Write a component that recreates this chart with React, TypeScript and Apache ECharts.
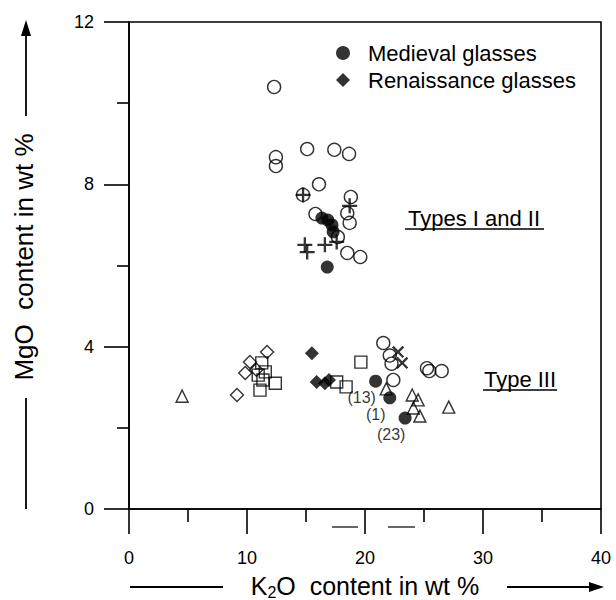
import React, { useEffect, useRef } from "react";
import * as echarts from "echarts";

// K2O (wt %), MgO (wt %)
const openCircles: number[][] = [
  [12.3, 10.4], [12.45, 8.67], [12.45, 8.45], [15.1, 8.87], [17.4, 8.85], [18.65, 8.75],
  [16.1, 8.0], [14.75, 7.74], [18.8, 7.69], [18.5, 7.29], [18.7, 7.05], [15.8, 7.27],
  [17.7, 6.7], [18.5, 6.31], [19.6, 6.21],
  [21.55, 4.09], [22.1, 3.78], [22.25, 3.58], [22.4, 3.18], [25.25, 3.47], [25.45, 3.4], [26.5, 3.4],
];
const medieval: number[][] = [
  [16.35, 7.17], [16.85, 7.12], [17.2, 7.0], [17.3, 6.83], [16.8, 5.96],
  [20.9, 3.15], [22.1, 2.74], [23.4, 2.24],
];
const medievalLabels: string[] = ["", "", "", "", "", "(13)", "(1)", "(23)"];
const renaissance: number[][] = [[15.5, 3.84], [15.9, 3.13], [16.6, 3.1], [16.95, 3.18]];
const openDiamonds: number[][] = [[11.7, 3.87], [10.25, 3.62], [9.85, 3.35], [10.8, 3.43], [9.15, 2.81]];
const openSquares: number[][] = [
  [11.25, 3.6], [11.55, 3.38], [10.95, 3.3], [11.35, 3.18], [12.4, 3.1], [11.1, 2.93],
  [17.6, 3.13], [18.4, 3.01], [19.65, 3.62],
];
const openTriangles: number[][] = [
  [4.5, 2.78], [24.0, 2.81], [24.5, 2.69], [24.1, 2.49], [24.65, 2.29], [27.1, 2.51], [21.8, 2.96],
];
const plusMarks: number[][] = [[14.75, 7.74], [18.7, 7.47], [14.9, 6.51], [15.1, 6.33], [16.6, 6.51], [17.6, 6.58]];
const crossMarks: number[][] = [[22.8, 3.87], [23.15, 3.6]];

const xTicks = { min: 0, max: 40, interval: 10 };
const yTicks = { min: 0, max: 12, interval: 4 };

const FONT = "'Liberation Sans', Arial, Helvetica, sans-serif";
const PLUS = "path://M6,0h2.2v6h6v2.2h-6v6h-2.2v-6h-6v-2.2h6z";

export default function App() {
  const ref = useRef<HTMLDivElement>(null);
  useEffect(() => {
    document.body.style.margin = "0";
    const chart = echarts.init(ref.current!, null, { renderer: "svg" });
    const open = { color: "rgba(0,0,0,0)", borderColor: "#000", borderWidth: 1.4 };
    const axisCommon = {
      type: "value" as const,
      axisLine: { show: true, onZero: false, lineStyle: { color: "#000", width: 1.6 } },
      splitLine: { show: false },
      axisLabel: { color: "#000", fontSize: 18, fontFamily: FONT },
    };
    chart.setOption({
      animation: false,
      backgroundColor: "#fff",
      textStyle: { fontFamily: FONT },
      grid: { left: 129, right: 15, top: 22, bottom: 91, show: true, borderColor: "#000", borderWidth: 1.6 },
      xAxis: {
        ...axisCommon,
        ...xTicks,
        axisTick: { length: 25, lineStyle: { color: "#000", width: 1.6 } },
        minorTick: { show: true, splitNumber: 2, length: 13, lineStyle: { color: "#000", width: 1.6 } },
        axisLabel: { ...axisCommon.axisLabel, margin: 40 },
      },
      yAxis: {
        ...axisCommon,
        ...yTicks,
        axisTick: { length: 25, lineStyle: { color: "#000", width: 1.6 } },
        minorTick: { show: true, splitNumber: 2, length: 12, lineStyle: { color: "#000", width: 1.6 } },
        axisLabel: { ...axisCommon.axisLabel, margin: 35 },
      },
      legend: {
        data: ["Medieval glasses", "Renaissance glasses"],
        orient: "vertical",
        left: 331,
        top: 37,
        itemWidth: 14,
        itemHeight: 14,
        itemGap: 5,
        selectedMode: false,
        textStyle: { fontSize: 22, color: "#000", fontFamily: FONT, padding: [0, 0, 0, 13] },
      },
      series: [
        { name: "open circles", type: "scatter", symbol: "circle", symbolSize: 13, itemStyle: open, data: openCircles, silent: true },
        { name: "open diamonds", type: "scatter", symbol: "diamond", symbolSize: 13, itemStyle: open, data: openDiamonds, silent: true },
        { name: "open squares", type: "scatter", symbol: "rect", symbolSize: 12, itemStyle: open, data: openSquares, silent: true },
        { name: "open triangles", type: "scatter", symbol: "triangle", symbolSize: 12, itemStyle: open, data: openTriangles, silent: true },
        { name: "plus", type: "scatter", symbol: PLUS, symbolSize: 15, itemStyle: { color: "#000" }, data: plusMarks, silent: true },
        { name: "cross", type: "scatter", symbol: PLUS, symbolSize: 15, symbolRotate: 45, itemStyle: { color: "#000" }, data: crossMarks, silent: true },
        {
          name: "Medieval glasses", type: "scatter", symbol: "circle", symbolSize: 13, symbolKeepAspect: true,
          itemStyle: { color: "#000" }, silent: true,
          data: medieval.map((v, i) => ({ value: v, name: medievalLabels[i] })),
          label: { show: true, formatter: (p: any) => p.name, position: "bottom", offset: [-14, -3], fontSize: 16, color: "#000", fontFamily: FONT },
        },
        {
          name: "Renaissance glasses", type: "scatter", symbol: "diamond", symbolSize: 14, symbolKeepAspect: true,
          itemStyle: { color: "#000" }, data: renaissance, silent: true,
        },
      ],
      graphic: [
        {
          type: "text", x: 365, y: 586,
          style: {
            text: "{a|K}{s|2}{a|O  content in wt %}", align: "center", verticalAlign: "middle",
            rich: {
              a: { fontSize: 25, lineHeight: 28, fontFamily: FONT, fill: "#000" },
              s: { fontSize: 16, lineHeight: 12, verticalAlign: "bottom", fontFamily: FONT, fill: "#000" },
            },
          },
        },
        { type: "line", shape: { x1: 130, y1: 587, x2: 223, y2: 587 }, style: { stroke: "#000", lineWidth: 1.8 } },
        { type: "line", shape: { x1: 507, y1: 587, x2: 592, y2: 587 }, style: { stroke: "#000", lineWidth: 1.8 } },
        { type: "polygon", shape: { points: [[604, 587], [589, 582], [589, 592]] }, style: { fill: "#000" } },
        {
          type: "text", x: 24, y: 257, rotation: Math.PI / 2,
          style: { text: "MgO  content in wt %", fontSize: 26, fontFamily: FONT, fill: "#000", align: "center", verticalAlign: "middle" },
        },
        { type: "line", shape: { x1: 26, y1: 116, x2: 26, y2: 34 }, style: { stroke: "#000", lineWidth: 1.8 } },
        { type: "polygon", shape: { points: [[26, 20], [21, 36], [31, 36]] }, style: { fill: "#000" } },
        { type: "line", shape: { x1: 26, y1: 398, x2: 26, y2: 509 }, style: { stroke: "#000", lineWidth: 1.8 } },
        {
          type: "text", x: 474, y: 218,
          style: { text: "Types I and II", fontSize: 22, fontFamily: FONT, fill: "#000", align: "center", verticalAlign: "middle" },
        },
        { type: "line", shape: { x1: 405, y1: 229, x2: 544, y2: 229 }, style: { stroke: "#000", lineWidth: 1.5 } },
        {
          type: "text", x: 520, y: 379,
          style: { text: "Type III", fontSize: 22, fontFamily: FONT, fill: "#000", align: "center", verticalAlign: "middle" },
        },
        { type: "line", shape: { x1: 483, y1: 390, x2: 557, y2: 390 }, style: { stroke: "#000", lineWidth: 1.5 } },
        { type: "line", shape: { x1: 332, y1: 527, x2: 358, y2: 527 }, style: { stroke: "#000", lineWidth: 1.2 } },
        { type: "line", shape: { x1: 388, y1: 527, x2: 415, y2: 527 }, style: { stroke: "#000", lineWidth: 1.2 } },
      ],
    });
    return () => chart.dispose();
  }, []);
  return <div ref={ref} style={{ position: "fixed", left: 0, top: 0, width: 616, height: 600 }} />;
}
